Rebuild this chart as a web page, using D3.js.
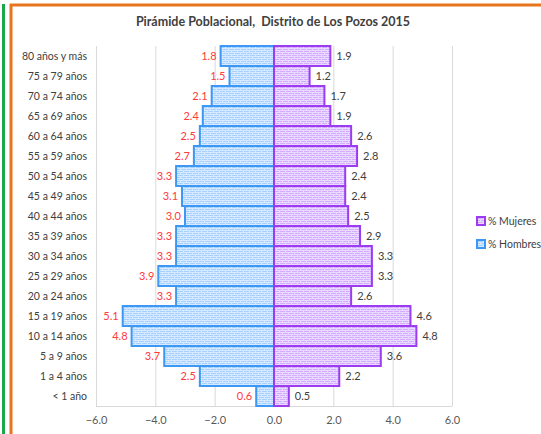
<!DOCTYPE html>
<html>
<head>
<meta charset="utf-8">
<script src="https://cdn.jsdelivr.net/npm/d3@7"></script>
<style>
  body { margin: 0; background: #fff; }
  svg { display: block; font-family: Lato, "Open Sans", sans-serif; }
</style>
</head>
<body>
<div class="canvas"></div>
<script>
const ageGroups = ["80 años y más", "75 a 79 años", "70 a 74 años", "65 a 69 años", "60 a 64 años",
  "55 a 59 años", "50 a 54 años", "45 a 49 años", "40 a 44 años", "35 a 39 años", "30 a 34 años",
  "25 a 29 años", "20 a 24 años", "15 a 19 años", "10 a 14 años", "5 a 9 años", "1 a 4 años", "< 1 año"];
const hombres = [1.8, 1.5, 2.1, 2.4, 2.5, 2.7, 3.3, 3.1, 3.0, 3.3, 3.3, 3.9, 3.3, 5.1, 4.8, 3.7, 2.5, 0.6];
const mujeres = [1.9, 1.2, 1.7, 1.9, 2.6, 2.8, 2.4, 2.4, 2.5, 2.9, 3.3, 3.3, 2.6, 4.6, 4.8, 3.6, 2.2, 0.5];
const xTicks = [-6, -4, -2, 0, 2, 4, 6];

const width = 541;
const height = 434;

const svg = d3.select(".canvas").append("svg")
  .attr("width", width)
  .attr("height", height);

// brick patterns
const defs = svg.append("defs");
function brick(id, bg) {
  const p = defs.append("pattern")
    .attr("id", id)
    .attr("patternUnits", "userSpaceOnUse")
    .attr("width", 6)
    .attr("height", 4);
  p.append("rect").attr("width", 6).attr("height", 4).attr("fill", bg);
  p.append("path")
    .attr("d", "M0,0.5H6M0,2.5H6M0.5,0V2M3.5,2V4")
    .attr("stroke", "#ffffff")
    .attr("stroke-width", 1)
    .attr("opacity", 0.55);
}
brick("brickBlue", "#a6d0ff");
brick("brickPurple", "#d3acff");

// frame lines
svg.append("line").attr("x1", 3.5).attr("y1", 4).attr("x2", 3.5).attr("y2", height)
  .attr("stroke", "#1aa84a").attr("stroke-width", 3);
svg.append("line").attr("x1", 10).attr("y1", 5).attr("x2", width).attr("y2", 5)
  .attr("stroke", "#e8741e").attr("stroke-width", 3);
svg.append("line").attr("x1", 11).attr("y1", 4).attr("x2", 11).attr("y2", height)
  .attr("stroke", "#e8741e").attr("stroke-width", 3);

// title
svg.append("text")
  .attr("x", 273)
  .attr("y", 26)
  .attr("text-anchor", "middle")
  .attr("font-size", 12.5)
  .attr("font-weight", "bold")
  .attr("fill", "#404040")
  .style("white-space", "pre")
  .text("Pirámide Poblacional,  Distrito de Los Pozos 2015");

const x = d3.scaleLinear().domain([-6, 6]).range([96, 452]);
const y = d3.scaleBand().domain(ageGroups).range([46, 406]).padding(0);

// grid
svg.append("g")
  .selectAll("line")
  .data(xTicks)
  .join("line")
  .attr("x1", d => x(d) + 0.5)
  .attr("x2", d => x(d) + 0.5)
  .attr("y1", 46)
  .attr("y2", 406)
  .attr("stroke", "#d9d9d9");

svg.append("line")
  .attr("x1", 96).attr("x2", 452)
  .attr("y1", 406.5).attr("y2", 406.5)
  .attr("stroke", "#d9d9d9");

// x axis labels
const xAxis = svg.append("g")
  .attr("transform", "translate(0,406)")
  .call(d3.axisBottom(x).tickValues(xTicks).tickFormat(d3.format(".1f")).tickSize(0).tickPadding(10));
xAxis.select(".domain").remove();
xAxis.selectAll("text").attr("font-size", 11).attr("fill", "#595959").attr("font-family", "Lato, sans-serif");

// y labels
svg.append("g")
  .selectAll("text")
  .data(ageGroups)
  .join("text")
  .attr("x", 87)
  .attr("y", d => y(d) + y.bandwidth() / 2 + 4)
  .attr("text-anchor", "end")
  .attr("font-size", 10.5)
  .attr("fill", "#404040")
  .text(d => d);

// hombres bars
svg.append("g")
  .selectAll("rect")
  .data(hombres)
  .join("rect")
  .attr("x", d => x(-d))
  .attr("y", (d, i) => y(ageGroups[i]))
  .attr("width", d => x(0) - x(-d))
  .attr("height", y.bandwidth())
  .attr("fill", "url(#brickBlue)")
  .attr("stroke", "#3d97f5")
  .attr("stroke-width", 2);

// mujeres bars
svg.append("g")
  .selectAll("rect")
  .data(mujeres)
  .join("rect")
  .attr("x", x(0))
  .attr("y", (d, i) => y(ageGroups[i]))
  .attr("width", d => x(d) - x(0))
  .attr("height", y.bandwidth())
  .attr("fill", "url(#brickPurple)")
  .attr("stroke", "#9b3cf0")
  .attr("stroke-width", 2);

// value labels
svg.append("g")
  .selectAll("text")
  .data(hombres)
  .join("text")
  .attr("x", d => x(-d) - 4)
  .attr("y", (d, i) => y(ageGroups[i]) + y.bandwidth() / 2 + 4)
  .attr("text-anchor", "end")
  .attr("font-size", 11)
  .attr("fill", "#ff3b3b")
  .text(d => d.toFixed(1));

svg.append("g")
  .selectAll("text")
  .data(mujeres)
  .join("text")
  .attr("x", d => x(d) + 6)
  .attr("y", (d, i) => y(ageGroups[i]) + y.bandwidth() / 2 + 4)
  .attr("font-size", 11)
  .attr("fill", "#404040")
  .text(d => d.toFixed(1));

// legend
const legendItems = [
  { label: "% Mujeres", fill: "url(#brickPurple)", stroke: "#9b3cf0" },
  { label: "% Hombres", fill: "url(#brickBlue)", stroke: "#3d97f5" }
];
const legend = svg.append("g")
  .selectAll("g")
  .data(legendItems)
  .join("g")
  .attr("transform", (d, i) => `translate(477,${217 + i * 23})`);
legend.append("rect")
  .attr("width", 8).attr("height", 8)
  .attr("fill", d => d.fill)
  .attr("stroke", d => d.stroke)
  .attr("stroke-width", 2);
legend.append("text")
  .attr("x", 11)
  .attr("y", 8)
  .attr("font-size", 10.5)
  .attr("fill", "#404040")
  .text(d => d.label);
</script>
</body>
</html>
